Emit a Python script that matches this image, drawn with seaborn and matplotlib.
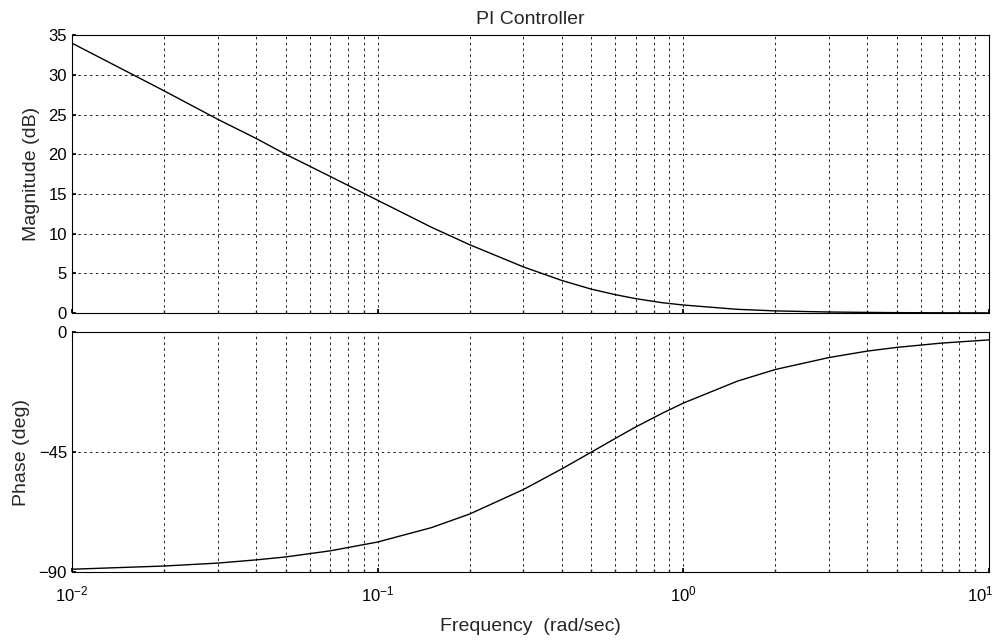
import matplotlib

matplotlib.use("Agg")

import matplotlib.pyplot as plt  # noqa: E402
import matplotlib.ticker as mticker  # noqa: E402
import matplotlib.transforms as mtransforms  # noqa: E402
import pandas as pd  # noqa: E402
import seaborn as sns  # noqa: E402

# values
freq = [0.01, 0.02, 0.03, 0.04, 0.05, 0.07, 0.1, 0.15, 0.2, 0.3, 0.4, 0.5,
        0.6, 0.7, 0.85, 1.0, 1.5, 2.0, 3.0, 4.0, 5.0, 7.0, 10.0]
magnitude_db = [34.0, 28.0, 24.4, 22.0, 20.0, 17.2, 14.2, 10.8, 8.6, 5.8, 4.1, 3.0,
                2.3, 1.8, 1.3, 1.0, 0.46, 0.26, 0.12, 0.07, 0.04, 0.02, 0.01]
phase_deg = [-88.9, -87.7, -86.6, -85.4, -84.3, -82.0, -78.7, -73.3, -68.2, -59.0, -51.3, -45.0,
             -39.8, -35.5, -30.5, -26.6, -18.4, -14.0, -9.5, -7.1, -5.7, -4.1, -2.9]

freq_ticks = [0.01, 0.1, 1, 10]
mag_ticks = [0, 5, 10, 15, 20, 25, 30, 35]
phase_ticks = [-90, -45, 0]

df = pd.DataFrame({"w": freq, "mag": magnitude_db, "phase": phase_deg})

sns.set_theme(style="white")
plt.rcParams["font.family"] = ["Liberation Sans", "DejaVu Sans"]

fig = plt.figure(figsize=(9.99, 6.40), dpi=100)
ax1 = fig.add_axes([0.072, 0.511, 0.918, 0.434])
ax2 = fig.add_axes([0.072, 0.106, 0.918, 0.375])

grid_kw = dict(color="black", linestyle=(0, (3, 4)), linewidth=0.6)

for ax, col, ticks, lims in [
    (ax1, "mag", mag_ticks, (0, 35)),
    (ax2, "phase", phase_ticks, (-90, 0)),
]:
    sns.lineplot(data=df, x="w", y=col, ax=ax, color="black", linewidth=1.0)
    ax.set_xscale("log")
    ax.set_xlim(0.01, 10)
    ax.set_ylim(*lims)
    ax.set_xticks(freq_ticks)
    ax.set_yticks(ticks)
    ax.xaxis.set_major_formatter(mticker.LogFormatterSciNotation())
    ax.xaxis.set_minor_locator(mticker.LogLocator(base=10, subs=range(2, 10)))
    ax.xaxis.set_minor_formatter(mticker.NullFormatter())
    ax.grid(True, which="major", axis="both", **grid_kw)
    ax.grid(True, which="minor", axis="x", **grid_kw)
    ax.tick_params(axis="both", labelsize=12, length=3, direction="in",
                   colors="black", left=True, bottom=True)
    ax.tick_params(axis="x", which="minor", length=2, direction="in", bottom=True)
    ax.tick_params(axis="x", pad=9)
    for s in ax.spines.values():
        s.set_color("black")
        s.set_linewidth(0.8)
    ax.set_xlabel("")

ax1.set_xticklabels([])
ax1.set_ylabel("Magnitude (dB)", fontsize=14, labelpad=6)
ax2.set_ylabel("Phase (deg)", fontsize=14, labelpad=6)
ax2.set_xlabel("Frequency  (rad/sec)", fontsize=14, labelpad=10)
ax1.set_title("PI Controller", fontsize=14, pad=8)

# keep the last decade label inside the figure
fig.canvas.draw()
last = ax2.xaxis.get_major_ticks()[-1].label1
last.set_transform(last.get_transform()
                   + mtransforms.ScaledTranslation(-9 / 100, 0, fig.dpi_scale_trans))

fig.savefig("out.png", dpi=100)
